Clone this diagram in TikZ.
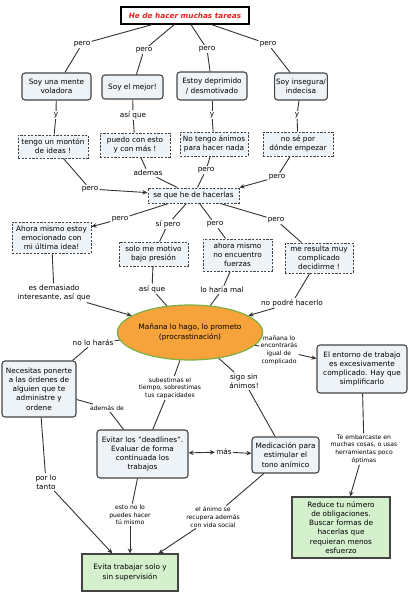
\documentclass[tikz,border=0pt]{standalone}
\usepackage{fontspec}
\setmainfont{DejaVu Sans}
\usetikzlibrary{shapes.geometric,arrows.meta}
\definecolor{boxfill}{HTML}{EEF3F7}
\definecolor{boxline}{HTML}{444444}
\definecolor{conncol}{HTML}{333333}
\definecolor{greenfill}{HTML}{D5F0CD}
\definecolor{orangefill}{HTML}{F5A33A}
\definecolor{ellline}{HTML}{7DB043}
\definecolor{titlered}{HTML}{E8231F}
\newcommand\mainfs{\fontsize{7.3}{9.2}\selectfont}
\newcommand\smallfs{\fontsize{6.1}{7.6}\selectfont}
\tikzset{
  titlebox/.style={draw=black, line width=1.1pt, fill=white, font=\mainfs\bfseries\itshape, text=titlered, inner sep=1pt},
  rbox/.style={draw=boxline, fill=boxfill, line width=1.1pt, rounded corners=3pt, align=center, font=\mainfs, inner sep=1.5pt},
  dbox/.style={draw=boxline, fill=boxfill, line width=1pt, dash pattern=on 2.2pt off 1.4pt, align=center, font=\mainfs, inner sep=1.5pt},
  gbox/.style={draw=boxline, fill=greenfill, line width=1.1pt, align=center, font=\mainfs, inner sep=1.5pt},
  ell/.style={ellipse, draw=ellline, fill=orangefill, line width=1.2pt, align=center, font=\mainfs, inner sep=0pt},
  lab/.style={align=center, font=\mainfs, inner sep=1.2pt},
  slab/.style={align=center, font=\smallfs, inner sep=1.2pt},
  conn/.style={draw=conncol, line width=0.9pt},
  arr/.style={conn, -{Stealth[length=5pt,width=4.5pt]}},
  darr/.style={conn, {Stealth[length=5pt,width=4.5pt]}-{Stealth[length=5pt,width=4.5pt]}}
}
\begin{document}
\begin{tikzpicture}[x=1pt,y=-1pt]
\useasboundingbox[fill=white] (0,0) rectangle (412,600);
% title
\node[titlebox, minimum width=128pt, minimum height=17pt] (t) at (185,15.5) {He de hacer muchas tareas};
% level 1
\node[rbox, minimum width=69pt, minimum height=27pt] (a1) at (56.5,86.5) {Soy una mente\\voladora};
\node[rbox, minimum width=61pt, minimum height=24pt] (a2) at (132.5,87) {Soy el mejor!};
\node[rbox, minimum width=70pt, minimum height=28pt] (a3) at (212,86) {Estoy deprimido\\/ desmotivado};
\node[rbox, minimum width=52pt, minimum height=27pt] (a4) at (301,86.5) {Soy insegura/\\indecisa};
\node[lab] (p1) at (82,44) {pero};
\node[lab] (p2) at (144,50) {pero};
\node[lab] (p3) at (207,49) {pero};
\node[lab] (p4) at (268,44) {pero};
\foreach \i in {1,2,3,4} {\draw[conn] (t) -- (p\i); \draw[conn] (p\i) -- (a\i);}
% level 2
\node[dbox, minimum width=70pt, minimum height=23pt] (b1) at (53,146.5) {tengo un montón\\de ideas !};
\node[dbox, minimum width=70pt, minimum height=24pt] (b2) at (135,145) {puedo con esto\\y con más !};
\node[dbox, minimum width=68pt, minimum height=24pt] (b3) at (214,144) {No tengo ánimos\\para hacer nada};
\node[dbox, minimum width=70pt, minimum height=24pt] (b4) at (298,144) {no sé por\\dónde empezar};
\node[lab] (y1) at (56,115) {y};
\node[lab] (y2) at (133,115) {así que};
\node[lab] (y3) at (212,115) {y};
\node[lab] (y4) at (297,115) {y};
\foreach \i in {1,2,3,4} {\draw[conn] (a\i) -- (y\i); \draw[conn] (y\i) -- (b\i);}
% se que
\node[dbox, minimum width=91pt, minimum height=15pt] (s) at (193.5,195.5) {se que he de hacerlas};
\node[lab] (c1) at (90,189) {pero};
\node[lab] (c2) at (148,173) {ademas};
\node[lab] (c3) at (206,170) {pero};
\node[lab] (c4) at (277,177) {pero};
\draw[conn] (b1) -- (c1); \draw[arr] (c1) -- (s);
\draw[conn] (b2) -- (c2); \draw[conn] (c2) -- (s);
\draw[conn] (b3) -- (c3); \draw[conn] (c3) -- (s);
\draw[conn] (b4) -- (c4); \draw[arr] (c4) -- (s.north east);
% level 3
\node[dbox, minimum width=79pt, minimum height=31pt] (e1) at (51.5,237.5) {Ahora mismo estoy\\emocionado con\\mi última idea!};
\node[dbox, minimum width=69pt, minimum height=24pt] (e2) at (153.5,254) {solo me motivo\\bajo presión};
\node[dbox, minimum width=69pt, minimum height=32pt] (e3) at (237.5,255) {ahora mismo\\no encuentro\\fuerzas};
\node[dbox, minimum width=68pt, minimum height=30pt] (e4) at (319,258) {me resulta muy\\complicado\\decidirme !};
\node[lab] (d1) at (120,219) {pero};
\node[lab] (d2) at (168,224) {sí pero};
\node[lab] (d3) at (215,224) {pero};
\node[lab] (d4) at (276,220) {pero};
\draw[conn] (s) -- (d1); \draw[arr] (d1) -- (e1);
\draw[conn] (s) -- (d2); \draw[conn] (d2) -- (e2);
\draw[conn] (s) -- (d3); \draw[conn] (d3) -- (e3);
\draw[conn] (s) -- (d4); \draw[conn] (d4) -- (e4);
% ellipse
\node[ell, minimum width=122pt, minimum height=55pt] (m) at (190,332.5) {Mañana lo hago, lo prometo\\(procrastinación)};
\node[lab] (f1) at (54,293) {es demasiado\\interesante, así que};
\node[lab] (f2) at (152,289) {así que};
\node[lab] (f3) at (222,290) {lo haría mal};
\node[lab] (f4) at (292,303) {no podré hacerlo};
\draw[conn] (e1) -- (f1); \draw[arr] (f1) -- (m);
\draw[conn] (e2) -- (f2); \draw[conn] (f2) -- (m);
\draw[conn] (e3) -- (f3); \draw[conn] (f3) -- (m);
\draw[conn] (e4) -- (f4); \draw[arr] (f4) -- (m);
% lower part
\node[rbox, minimum width=74pt, minimum height=56pt] (h) at (39,389) {Necesitas ponerte\\a las órdenes de\\alguien que te\\administre y\\ordene};
\node[rbox, minimum width=90pt, minimum height=48pt] (k) at (362,369) {El entorno de trabajo\\es excesivamente\\complicado. Hay que\\simplificarlo};
\node[rbox, minimum width=91pt, minimum height=48pt] (n) at (142.5,454) {Evitar los "deadlines".\\Evaluar de forma\\continuada los\\trabajos};
\node[rbox, minimum width=67pt, minimum height=36pt] (o) at (285.5,455) {Medicación para\\estimular el\\tono anímico};
\node[gbox, minimum width=98pt, minimum height=61pt] (r) at (341,527.5) {Reduce tu número\\de obligaciones.\\Buscar formas de\\hacerlas que\\requieran menos\\esfuerzo};
\node[gbox, minimum width=96pt, minimum height=37pt] (v) at (130,572.5) {Evita trabajar solo y\\sin supervisión};
\node[lab] (g1) at (93,343) {no lo harás};
\node[slab] (g2) at (170,388) {subestimas el\\tiempo, sobrestimas\\tus capacidades};
\node[lab] (g3) at (244,381) {sigo sin\\ánimos!};
\node[slab] (g4) at (279,350) {mañana lo\\encontrarás\\igual de\\complicado};
\node[slab] (g5) at (107,408) {además de};
\node[lab] (g6) at (224,452) {más};
\node[slab] (g7) at (364,449) {Te embarcaste en\\muchas cosas, o usas\\herramientas poco\\óptimas};
\node[lab] (g8) at (46,482) {por lo\\tanto};
\node[slab] (g9) at (130,515) {esto no lo\\puedes hacer\\tú mismo};
\node[slab] (g10) at (213,517) {el ánimo se\\recupera además\\con vida social};
\draw[conn] (m) -- (g1); \draw[conn] (g1) -- (h);
\draw[conn] (m) -- (g2); \draw[conn] (g2) -- (n);
\draw[conn] (m) -- (g3); \draw[conn] (g3) -- (o);
\draw[conn] (m) -- (g4); \draw[arr] (g4) -- (k);
\draw[conn] (h) -- (g5); \draw[conn] (g5) -- (n);
\draw[darr] (n) -- (g6); \draw[arr] (g6) -- (o);
\draw[conn] (k) -- (g7); \draw[arr] (g7) -- (r);
\draw[conn] (h) -- (g8); \draw[arr] (g8) -- (v);
\draw[conn] (n) -- (g9); \draw[arr] (g9) -- (v);
\draw[conn] (o) -- (g10); \draw[arr] (g10) -- (v);
\end{tikzpicture}
\end{document}
